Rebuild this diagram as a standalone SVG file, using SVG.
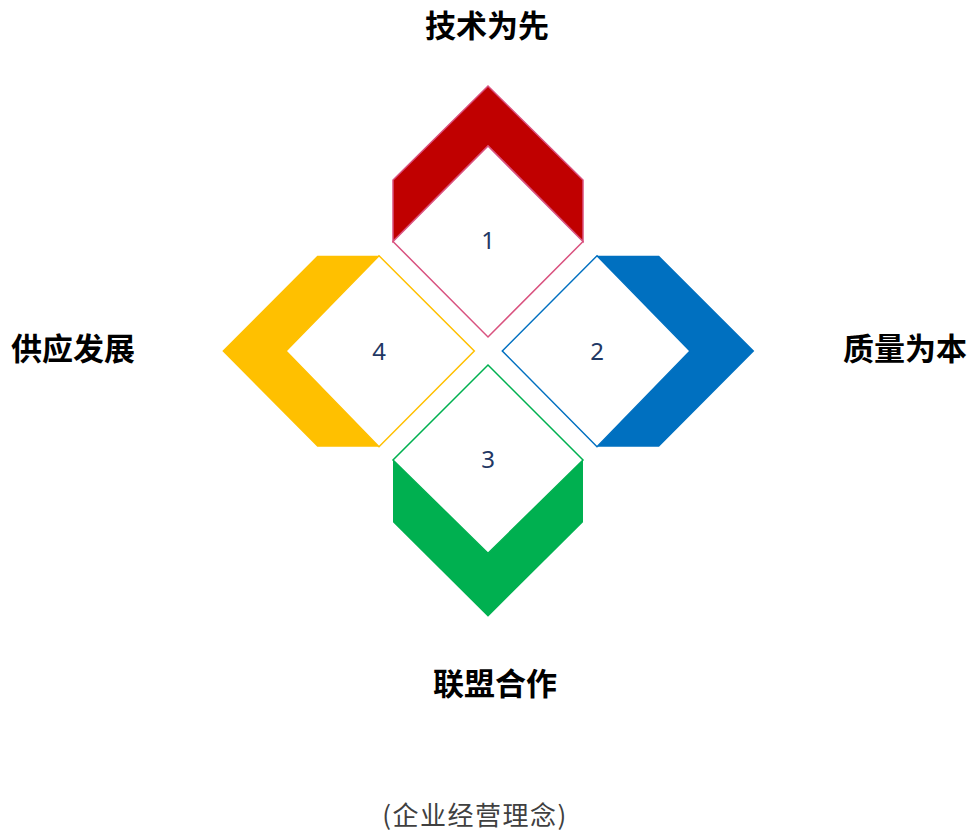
<svg xmlns="http://www.w3.org/2000/svg" width="971" height="834" viewBox="0 0 971 834">
<style>
.t{font-family:"Noto Sans CJK SC","Noto Sans",sans-serif;font-weight:bold;font-size:31px;fill:#000;text-anchor:middle}
.n{font-family:"Noto Sans","Open Sans",sans-serif;font-size:24px;fill:#1F3864;text-anchor:middle}
.d{fill:#fff;stroke-width:1.5}
.sub{font-family:"Noto Sans CJK SC","Noto Sans",sans-serif;font-size:26px;fill:#404040;text-anchor:middle;letter-spacing:1.5px}
</style>
<rect width="971" height="834" fill="#fff"/>
<g id="node1">
<polygon points="393,241.5 393,180 488,86 583,180 583,241.5 488,146" fill="#C00000" stroke="#D9527F" stroke-width="1.5"/>
<polygon class="d" points="488,146 583,241.5 488,337 393,241.5" stroke="#D9527F"/>
<text class="n" x="488" y="249">1</text>
</g>
<g id="node2">
<polygon points="597,255.7 659,255.7 754.3,351 659,446.7 597,446.7 690,351" fill="#0070C0"/>
<polygon class="d" points="597,255.7 690,351 597,446.7 502.3,351" stroke="#0070C0"/>
<text class="n" x="597" y="359.5">2</text>
</g>
<g id="node3">
<polygon points="393,460 393,522.3 488,616.7 583,522.3 583,460 488,553.3" fill="#00B050"/>
<polygon class="d" points="488,365 583,460 488,553.3 393,460" stroke="#00B050"/>
<text class="n" x="488" y="468">3</text>
</g>
<g id="node4">
<polygon points="379,255.7 317.3,255.7 222.3,351 317.3,446.7 379,446.7 286,351" fill="#FFC000"/>
<polygon class="d" points="379,255.7 474.3,351 379,446.7 286,351" stroke="#FFC000"/>
<text class="n" x="379" y="359.5">4</text>
</g>
<g id="labels">
<text class="t" x="487" y="37">技术为先</text>
<text class="t" x="905" y="360">质量为本</text>
<text class="t" x="73" y="360">供应发展</text>
<text class="t" x="495" y="695">联盟合作</text>
<text class="sub" x="475" y="825">(企业经营理念)</text>
</g>
<g id="connectors"></g>
</svg>
